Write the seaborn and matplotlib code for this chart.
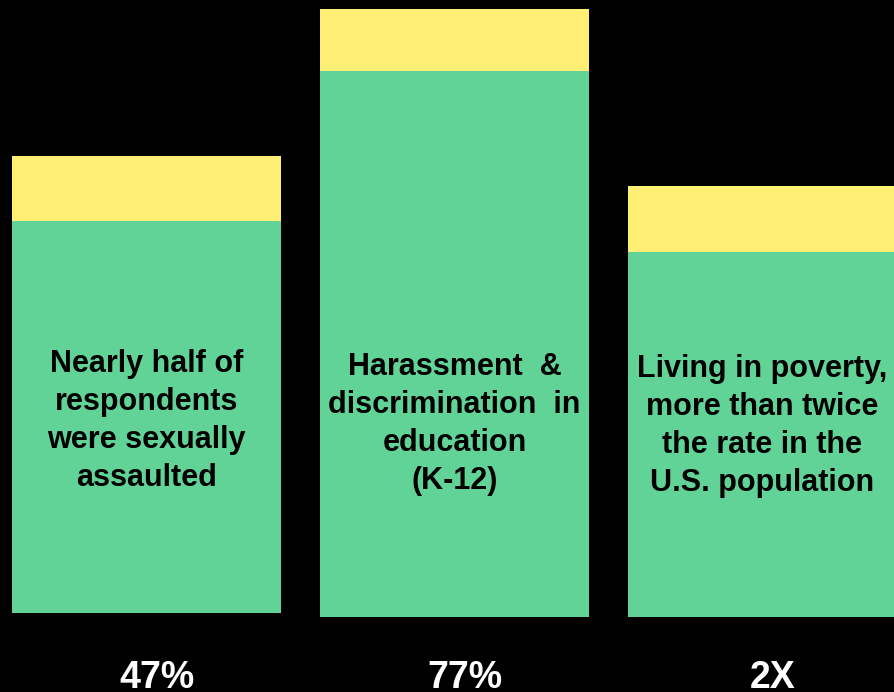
import matplotlib
matplotlib.use("Agg")
import numpy as np
import pandas as pd
import seaborn as sns
import matplotlib.pyplot as plt

# ---- data ----
categories = ["Sexual assault", "Education", "Poverty"]
bar_texts = [
    "Nearly half of\nrespondents\nwere sexually\nassaulted",
    "Harassment  &\ndiscrimination  in\neducation\n(K-12)",
    "Living in poverty,\nmore than twice\nthe rate in the\nU.S. population",
]
stat_labels = ["47%", "77%", "2X"]
base_values = [79, 75, 75]        # empty space below each bar
green_values = [392, 546, 365]    # green segment
yellow_values = [65, 62, 66]      # yellow cap

GREEN = "#62D397"
YELLOW = "#FFF075"

sns.set_theme(style="white")
plt.rcParams["font.family"] = ["Liberation Sans", "DejaVu Sans"]

W, H = 894, 692
fig = plt.figure(figsize=(W / 100, H / 100), dpi=100, facecolor="black")
ax = fig.add_axes([0, 0, 1, 1])
ax.set_facecolor("black")

df = pd.DataFrame({
    "category": categories,
    "base": base_values,
    "green": green_values,
    "yellow": yellow_values,
})
df["green_top"] = df["base"] + df["green"]

bar_width = 269 / 308
sns.barplot(data=df, x="category", y="green", order=categories, color=GREEN,
            saturation=1, width=bar_width, errorbar=None, bottom=df["base"].values,
            linewidth=0, ax=ax)
sns.barplot(data=df, x="category", y="yellow", order=categories, color=YELLOW,
            saturation=1, width=bar_width, errorbar=None, bottom=df["green_top"].values,
            linewidth=0, ax=ax)

# pixel-like coordinate frame
ax.set_xlim(-146.5 / 308, (W - 146.5) / 308)
ax.set_ylim(0, H)
ax.axis("off")

text_y = [271, 268, 266]
for i, (txt, stat) in enumerate(zip(bar_texts, stat_labels)):
    ax.text(i, text_y[i], txt, ha="center", va="center", fontsize=22,
            fontweight="bold", color="black", linespacing=1.36)
    ax.text(i + 10 / 308, 3.5, stat, ha="center", va="baseline", fontsize=27,
            fontweight="bold", color="white")

fig.savefig("out.png", dpi=100, facecolor="black")
